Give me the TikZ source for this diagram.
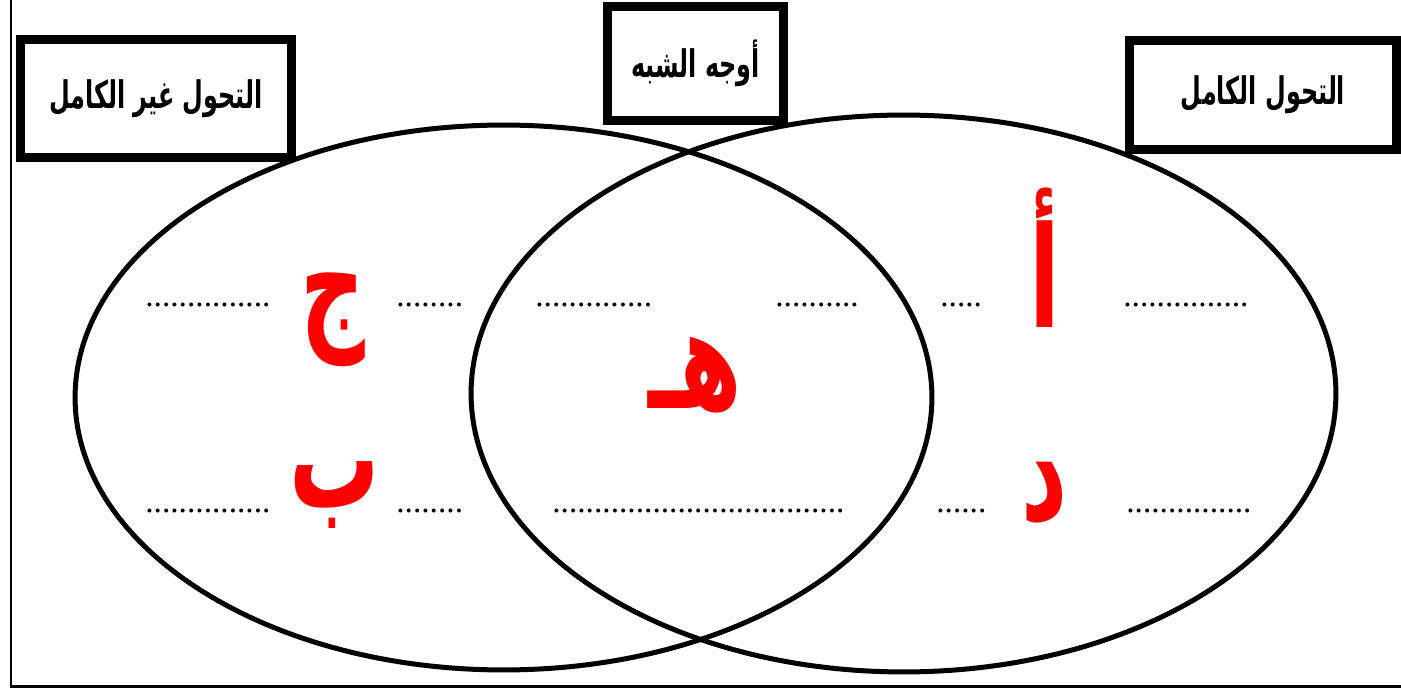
\documentclass[tikz,border=0pt]{standalone}
\usepackage{graphicx}
\usepackage{fontspec}
\setmainfont{Liberation Serif}
\newfontfamily\arabicfont[Script=Arabic]{DejaVu Sans}
\TeXXeTstate=1
\usetikzlibrary{positioning}
\definecolor{VENN-RED}{RGB}{255, 0, 0}

% narrow, tall Arabic as in the worksheet
\newcommand{\boxtxt}[1]{\scalebox{0.85}[1.35]{\beginR #1\endR}}
\newcommand{\redtxt}[1]{\scalebox{0.8}[1.25]{\beginR #1\endR}}

\tikzset{
  titlebox/.style={draw, line width=0.18cm, fill=white, inner sep=0pt,
    font=\arabicfont\bfseries\fontsize{16}{19}\selectfont},
  bigletter/.style={VENN-RED, inner sep=0pt,
    font=\arabicfont\bfseries\fontsize{64}{72}\selectfont},
  dotrow/.style={anchor=base west, inner sep=0pt, font=\fontsize{19}{20}\selectfont},
}

\begin{document}
\begin{tikzpicture}[x=0.02cm, y=-0.02cm]
  \useasboundingbox (0,0) rectangle (1401,689);

  % Page frame (left and bottom edge)
  \draw[line width=0.06cm] (11,0) -- (11,686) -- (1401,686);

  % Left set and right set
  \draw[line width=0.1cm] (503.5,397.5) ellipse [x radius=8.57cm, y radius=5.45cm];
  \draw[line width=0.1cm] (903.5,393.5) ellipse [x radius=8.65cm, y radius=5.57cm];

  % Titles
  \node[titlebox, minimum width=5.44cm, minimum height=2.38cm] (incomplete) at (156,98.5)
    {\boxtxt{التحول غير الكامل}};
  \node[titlebox, minimum width=3.54cm, minimum height=2.3cm] (common) at (695.5,63.5)
    {\boxtxt{أوجه الشبه}};
  \node[titlebox, minimum width=5.36cm, minimum height=2.2cm] (complete) at (1263,95)
    {\boxtxt{التحول الكامل}};

  % Red letters
  \node[bigletter] (jeem) at (333,320) {\redtxt{ج}};
  \node[bigletter] (baa) at (335,495) {\redtxt{ب}};
  \node[bigletter] (haa) at (695,375) {\redtxt{هـ}};
  \node[bigletter] (alef) at (1045,258) {\redtxt{أ}};
  \node[bigletter] (dal) at (1045,493) {\redtxt{د}};

  % Blank lines, upper row
  \node[dotrow] (d11) at (145,307) {...............};
  \node[dotrow] (d12) at (396,307) {........};
  \node[dotrow] (d13) at (535,307) {..............};
  \node[dotrow] (d14) at (775,307) {..........};
  \node[dotrow] (d15) at (940,307) {.....};
  \node[dotrow] (d16) at (1123,307) {...............};

  % Blank lines, lower row
  \node[dotrow] (d21) at (145,513) {...............};
  \node[dotrow] (d22) at (396,513) {........};
  \node[dotrow] (d23) at (552,513) {...................................};
  \node[dotrow] (d24) at (936,513) {......};
  \node[dotrow] (d25) at (1126,513) {...............};
\end{tikzpicture}
\end{document}
